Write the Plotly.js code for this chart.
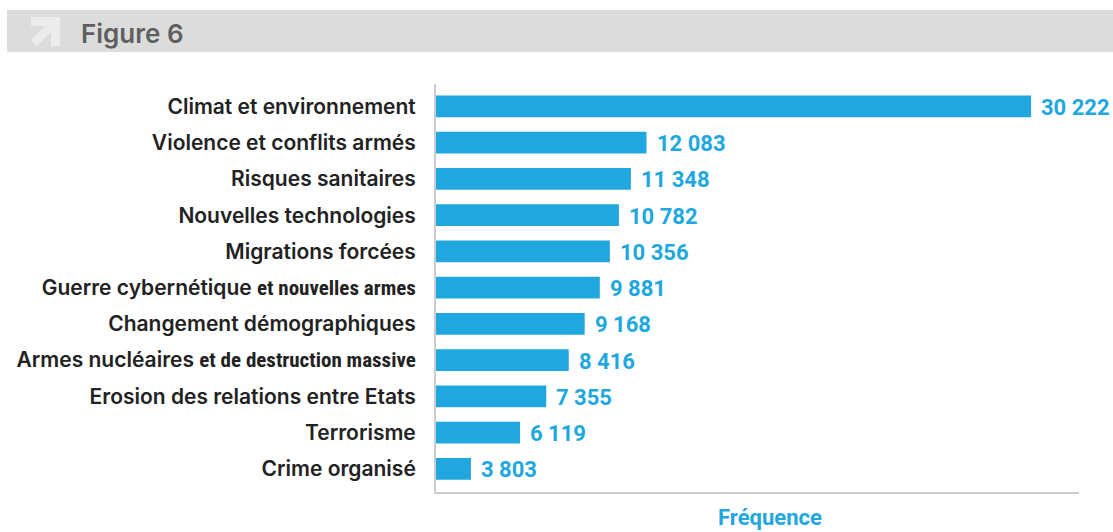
<!DOCTYPE html>
<html>
<head>
<meta charset="utf-8">
<script src="https://cdn.plot.ly/plotly-3.0.1.min.js"></script>
<style>html,body{margin:0;padding:0;background:#fff;}#chart{width:1113px;height:532px;}</style>
</head>
<body>
<div id="chart"></div>
<script>
// Data
const categories = [
  "Climat et environnement",
  "Violence et conflits armés",
  "Risques sanitaires",
  "Nouvelles technologies",
  "Migrations forcées",
  "Guerre cybernétique et nouvelles armes",
  "Changement démographiques",
  "Armes nucléaires et de destruction massive",
  "Erosion des relations entre Etats",
  "Terrorisme",
  "Crime organisé"
];
const frequencies = [30222, 12083, 11348, 10782, 10356, 9881, 9168, 8416, 7355, 6119, 3803];
const tickLabels = [
  "Climat et environnement",
  "Violence et conflits armés",
  "Risques sanitaires",
  "Nouvelles technologies",
  "Migrations forcées",
  "Guerre cybernétique <span style=\"font-family:'Liberation Sans Narrow','Roboto Condensed',Roboto;font-weight:bold;\">et nouvelles armes</span>",
  "Changement démographiques",
  "Armes nucléaires <span style=\"font-family:'Liberation Sans Narrow','Roboto Condensed',Roboto;font-weight:bold;\">et de destruction massive</span>",
  "Erosion des relations entre Etats",
  "Terrorisme",
  "Crime organisé"
];
const headerTitle = "Figure 6";
const axisTitle = "Fréquence";

const W = 1113, H = 532;
const L = 436, R = 1079, T = 84, B = 492;
const BLUE = '#21a7df';
const FONT = 'Inter, Roboto, sans-serif';

function fmt(v){ return String(v).replace(/\B(?=(\d{3})+(?!\d))/g, ' '); }
function px2paperX(px){ return (px - L) / (R - L); }
function px2paperY(py){ return (B - py) / (B - T); }

const trace = {
  type: 'bar',
  orientation: 'h',
  x: frequencies,
  y: categories,
  marker: {color: BLUE},
  width: 0.6,
  hoverinfo: 'none'
};

const annotations = frequencies.map((v, i) => ({
  x: v, y: categories[i], xref: 'x', yref: 'y',
  text: fmt(v), showarrow: false, xanchor: 'left', yanchor: 'middle',
  xshift: 8, yshift: -1,
  font: {family: 'Roboto, sans-serif', size: 22, color: BLUE, weight: 'bold'}
}));
annotations.push({
  xref: 'paper', yref: 'paper', x: px2paperX(770), y: px2paperY(517),
  text: axisTitle, showarrow: false, xanchor: 'center', yanchor: 'middle',
  font: {family: 'Roboto, sans-serif', size: 22, color: BLUE, weight: 'bold'}
});
annotations.push({
  xref: 'paper', yref: 'paper', x: px2paperX(79), y: px2paperY(33),
  text: headerTitle, showarrow: false, xanchor: 'left', yanchor: 'middle',
  font: {family: FONT, size: 26, color: '#5f5f5f', weight: 600}
});

function pathFromPx(pts){
  return 'M ' + pts.map(p => px2paperX(p[0]) + ' ' + px2paperY(p[1])).join(' L ') + ' Z';
}

const shapes = [
  {type: 'rect', xref: 'paper', yref: 'paper', layer: 'below',
   x0: px2paperX(7), x1: px2paperX(1113), y0: px2paperY(10), y1: px2paperY(52),
   fillcolor: '#dcdcdc', line: {width: 0}},
  {type: 'path', xref: 'paper', yref: 'paper', layer: 'below',
   path: pathFromPx([[31,17],[60,17],[60,46],[51,46],[51,32],[37,46],[31,40],[45,26],[31,26]]),
   fillcolor: '#ececec', line: {width: 0}}
];

const layout = {
  width: W, height: H,
  margin: {l: L, r: W - R, t: T, b: H - B, pad: 0},
  paper_bgcolor: '#fff', plot_bgcolor: '#fff',
  showlegend: false,
  xaxis: {
    range: [2155, 32480], showgrid: false, zeroline: false,
    showticklabels: false, ticks: '',
    showline: true, linecolor: '#cccccc', linewidth: 2, fixedrange: true
  },
  yaxis: {
    type: 'category',
    range: [10.64, -0.62],
    tickmode: 'array', tickvals: categories, ticktext: tickLabels,
    showgrid: false, zeroline: false, ticks: '',
    ticklabelstandoff: 14,
    tickfont: {family: FONT, size: 21, color: '#222222', weight: 600},
    showline: true, linecolor: '#cccccc', linewidth: 2, fixedrange: true
  },
  annotations: annotations,
  shapes: shapes
};

Plotly.newPlot('chart', [trace], layout, {displayModeBar: false, staticPlot: true});
</script>
</body>
</html>
